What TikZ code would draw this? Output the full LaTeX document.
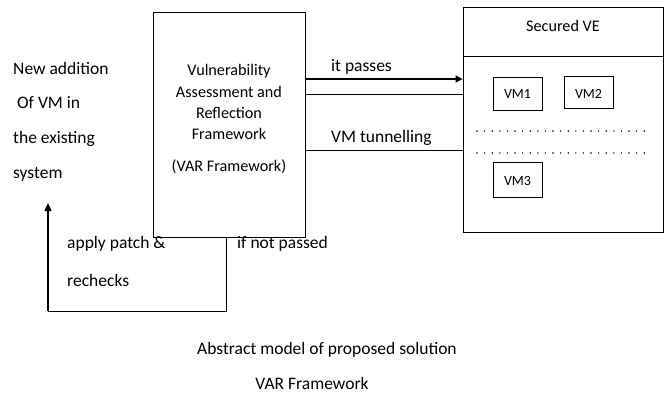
\documentclass[tikz,border=0pt]{standalone}
\usepackage{fontspec}
\setmainfont{Carlito}
\usetikzlibrary{arrows.meta}
\begin{document}
\begin{tikzpicture}[x=1pt,y=-1pt,
  txt/.style={font=\fontsize{17.5}{20}\selectfont, inner sep=0pt, anchor=west},
  boxtxt/.style={font=\fontsize{16.2}{19}\selectfont, inner sep=0pt},
  smalltxt/.style={font=\fontsize{14}{16}\selectfont, inner sep=0pt},
  frame/.style={draw, line width=0.8pt},
  ln/.style={line width=0.6pt},
  arr/.style={line width=1.4pt, -{Triangle[length=7pt,width=7pt]}}]
\useasboundingbox (0,0) rectangle (667,394);
% VAR box
\node[frame, minimum width=152pt, minimum height=225pt, inner sep=0pt] (var) at (229,124.5) {};
\node[boxtxt] (t1) at (229,71) {Vulnerability};
\node[boxtxt] (t2) at (229,92) {Assessment and};
\node[boxtxt] (t3) at (229,113) {Reflection};
\node[boxtxt] (t4) at (229,134) {Framework};
\node[boxtxt] (t5) at (229,167) {(VAR Framework)};
% Secured VE
\node[frame, minimum width=200pt, minimum height=225pt, inner sep=0pt] (ve) at (563,119.5) {};
\coordinate (dl) at (463,56);
\coordinate (dr) at (663,56);
\draw[ln] (dl) -- (dr);
\node[boxtxt] (vetitle) at (563,26) {Secured VE};
\node[frame, line width=0.6pt, minimum width=49pt, minimum height=33pt, inner sep=0pt] (vm1) at (517.5,93.5) {};
\node[smalltxt] at (vm1) {VM1};
\node[frame, line width=0.6pt, minimum width=49pt, minimum height=32pt, inner sep=0pt] (vm2) at (588.5,92) {};
\node[smalltxt] at ([yshift=-2pt]vm2) {VM2};
\node[frame, line width=0.6pt, minimum width=49pt, minimum height=35pt, inner sep=0pt] (vm3) at (517.5,179.5) {};
\node[smalltxt] at ([yshift=-2pt]vm3) {VM3};
\coordinate (d1a) at (477,131); \coordinate (d1b) at (649,131);
\coordinate (d2a) at (477,153); \coordinate (d2b) at (649,153);
\draw[line width=1.6pt, dash pattern=on 0pt off 7.6pt, line cap=round] (d1a) -- (d1b);
\draw[line width=1.6pt, dash pattern=on 0pt off 7.6pt, line cap=round] (d2a) -- (d2b);
% connectors
\draw[arr] (var.east |- 0,79) -- (ve.west |- 0,79);
\draw[ln] (var.east |- 0,94) -- (ve.west |- 0,94);
\draw[ln] (var.east |- 0,150) -- (ve.west |- 0,150);
\node[txt] (lp) at (331,67) {it passes};
\node[txt] (lt) at (331,138) {VM tunnelling};
% feedback loop
\coordinate (fb1) at (226,237);
\coordinate (fb2) at (226,311);
\coordinate (fb3) at (48,311);
\coordinate (fb4) at (48,203);
\draw[ln] (fb1) -- (fb2) -- (fb3);
\draw[line width=1.3pt, -{Triangle[length=8pt,width=7pt]}] (fb3) -- (fb4);
\node[txt] (ap) at (67,244) {apply patch \&};
\node[txt] (re) at (67,280) {rechecks};
\node[txt] (np) at (237,244) {if not passed};
% left text
\node[txt] (n1) at (13,68) {New addition};
\node[txt] (n2) at (13,103) {\ Of VM in};
\node[txt] (n3) at (13,139) {the existing};
\node[txt] (n4) at (13,174) {system};
% captions
\node[txt, anchor=center] (c1) at (327,350) {Abstract model of proposed solution};
\node[txt, anchor=center] (c2) at (312,383) {VAR Framework};
\end{tikzpicture}
\end{document}
